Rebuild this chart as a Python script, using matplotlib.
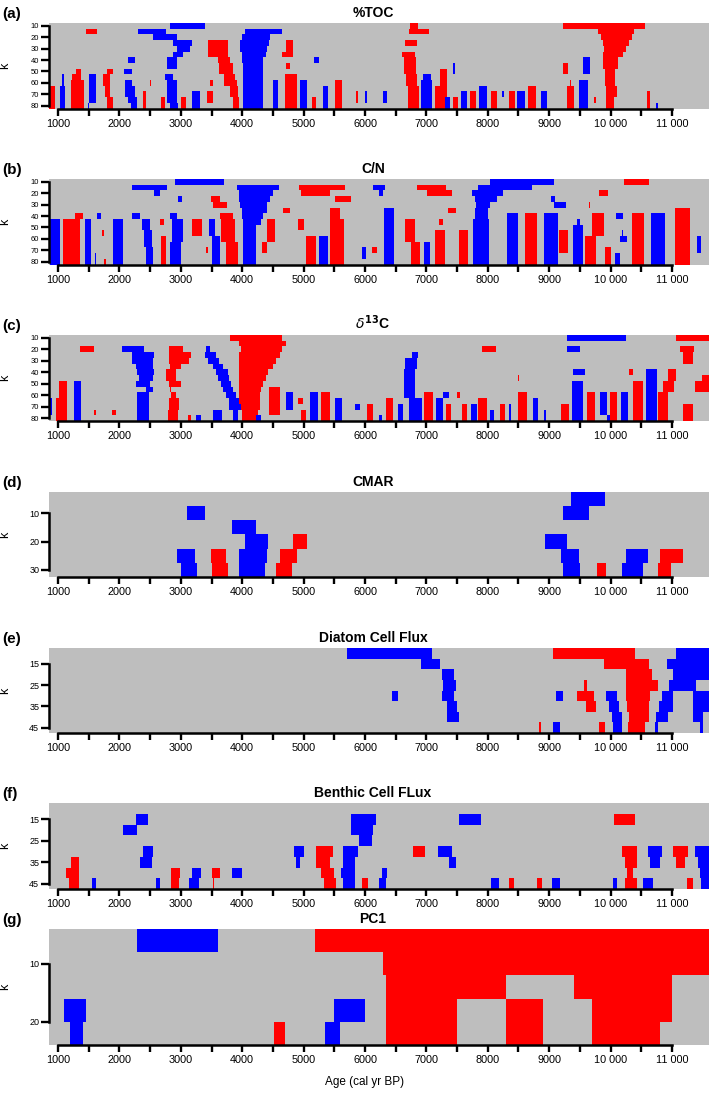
import matplotlib
matplotlib.use("Agg")
import matplotlib.pyplot as plt

plt.rcParams['font.family'] = ['Liberation Sans', 'DejaVu Sans']

RED = "#FF0000"
BLUE = "#0000FF"
GRAY = "#BEBEBE"
COLORS = {"r": RED, "b": BLUE}

# each cell block: (colour, first k row, last k row, age from, age to)
toc_cells = [
    ("b", 10, 10, 2820, 3400),
    ("r", 15, 15, 1460, 1640), ("b", 15, 15, 2300, 2760), ("b", 20, 20, 2550, 2930),
    ("b", 25, 25, 2875, 3175), ("b", 30, 30, 2930, 3150), ("b", 35, 35, 2875, 3040),
    ("b", 40, 45, 2770, 2930), ("b", 55, 55, 2740, 2880), ("b", 60, 75, 2770, 2930),
    ("b", 80, 80, 2820, 2960),
    ("b", 15, 15, 4040, 4640), ("b", 20, 20, 3990, 4450), ("b", 25, 25, 3960, 4430),
    ("b", 30, 30, 3970, 4410), ("b", 35, 35, 3990, 4380), ("b", 40, 40, 4000, 4340),
    ("b", 45, 80, 4010, 4340),
    ("r", 25, 35, 3450, 3770), ("r", 40, 40, 3610, 3800), ("r", 45, 50, 3625, 3850),
    ("r", 55, 55, 3700, 3880), ("r", 60, 60, 3700, 3910), ("r", 65, 70, 3800, 3935),
    ("r", 75, 80, 3850, 3950), ("r", 60, 60, 3470, 3530), ("r", 70, 75, 3430, 3530),
    ("r", 25, 30, 4720, 4830), ("r", 35, 35, 4640, 4830), ("r", 45, 45, 4720, 4780),
    ("r", 55, 80, 4700, 4890),
    ("b", 40, 40, 5170, 5250), ("b", 60, 80, 4500, 4590), ("b", 60, 80, 4940, 5050),
    ("b", 65, 80, 5320, 5400), ("r", 60, 80, 5510, 5620), ("r", 75, 80, 5130, 5210),
    ("r", 65, 80, 855, 945), ("b", 55, 60, 1070, 1090), ("b", 65, 80, 1030, 1110),
    ("r", 50, 50, 1300, 1380), ("r", 55, 55, 1230, 1380), ("r", 60, 80, 1210, 1420),
    ("b", 55, 75, 1505, 1625), ("b", 80, 80, 1490, 1510),
    ("r", 50, 50, 1790, 1900), ("r", 55, 60, 1730, 1840), ("r", 65, 70, 1760, 1840),
    ("r", 75, 80, 1800, 1900),
    ("b", 40, 40, 2140, 2250), ("b", 50, 50, 2070, 2210), ("b", 60, 60, 2090, 2200),
    ("b", 65, 70, 2090, 2250), ("b", 75, 75, 2140, 2280), ("b", 80, 80, 2190, 2280),
    ("r", 60, 60, 2500, 2520), ("r", 70, 80, 2385, 2440), ("r", 75, 80, 2675, 2740),
    ("r", 75, 80, 3010, 3090), ("b", 70, 80, 3180, 3310),
    ("r", 10, 10, 6730, 6870), ("r", 15, 15, 6720, 7040), ("r", 25, 25, 6650, 6840),
    ("r", 35, 35, 6600, 6810), ("r", 40, 50, 6630, 6830), ("r", 55, 60, 6660, 6850),
    ("r", 65, 80, 6700, 6880),
    ("r", 10, 10, 9220, 10560), ("r", 15, 15, 9800, 10380), ("r", 20, 20, 9850, 10350),
    ("r", 25, 25, 9880, 10300), ("r", 30, 30, 9890, 10250), ("r", 35, 35, 9880, 10200),
    ("r", 40, 45, 9880, 10120), ("r", 50, 60, 9910, 10070), ("r", 65, 70, 9920, 10110),
    ("r", 75, 80, 9930, 10060),
    ("b", 55, 55, 6950, 7070), ("b", 60, 80, 6920, 7090),
    ("r", 50, 60, 7220, 7330), ("r", 65, 80, 7140, 7330), ("b", 75, 80, 7300, 7380),
    ("b", 45, 50, 7440, 7460), ("r", 75, 80, 7440, 7510), ("b", 70, 80, 7560, 7660),
    ("r", 70, 80, 7710, 7810), ("b", 65, 80, 7860, 7990), ("r", 70, 80, 8050, 8150),
    ("b", 70, 70, 8230, 8260), ("r", 70, 80, 8350, 8450), ("b", 70, 80, 8480, 8610),
    ("r", 65, 80, 8660, 8790), ("b", 70, 80, 8860, 8960),
    ("b", 40, 50, 9550, 9670), ("r", 45, 50, 9230, 9310),
    ("r", 65, 80, 9290, 9410), ("r", 60, 60, 9340, 9360), ("b", 60, 80, 9480, 9630),
    ("r", 75, 75, 9730, 9760), ("r", 70, 80, 10590, 10640), ("b", 80, 80, 10740, 10770),
    ("r", 70, 75, 5850, 5890), ("b", 70, 75, 6000, 6040), ("b", 70, 75, 6290, 6360),
]

cn_cells = [
    ("b", 10, 10, 2910, 3700),
    ("b", 15, 15, 2200, 2770), ("b", 20, 20, 2565, 2660), ("b", 25, 25, 2960, 3020),
    ("b", 15, 15, 3920, 4600), ("b", 20, 20, 3945, 4505), ("b", 25, 25, 3950, 4450),
    ("b", 30, 30, 3960, 4410), ("b", 35, 35, 3990, 4400), ("b", 40, 40, 3990, 4340),
    ("b", 45, 45, 4005, 4310), ("b", 50, 80, 4005, 4220),
    ("r", 15, 15, 4930, 5675), ("r", 20, 20, 4965, 5430), ("r", 25, 25, 5510, 5780),
    ("r", 25, 25, 3490, 3635), ("r", 30, 30, 3525, 3745), ("r", 35, 35, 4660, 4775),
    ("r", 35, 40, 5430, 5600), ("r", 45, 80, 5430, 5650),
    ("b", 45, 80, 865, 1030), ("r", 40, 40, 1270, 1410), ("r", 45, 80, 1080, 1350),
    ("b", 45, 80, 1435, 1545), ("b", 75, 80, 1595, 1620), ("b", 40, 40, 1640, 1700),
    ("r", 55, 55, 1720, 1750), ("r", 80, 80, 1745, 1775),
    ("b", 45, 80, 1900, 2060), ("b", 40, 40, 2205, 2340), ("b", 45, 50, 2375, 2500),
    ("b", 55, 65, 2400, 2530), ("b", 70, 80, 2430, 2550),
    ("r", 45, 45, 2660, 2725), ("r", 60, 80, 2675, 2765),
    ("b", 40, 40, 2820, 2930), ("b", 45, 60, 2850, 3040), ("b", 65, 80, 2830, 3000),
    ("r", 45, 55, 3190, 3340), ("r", 70, 70, 3410, 3440),
    ("b", 45, 55, 3460, 3560), ("b", 60, 80, 3500, 3640),
    ("r", 40, 40, 3640, 3850), ("r", 45, 60, 3650, 3880), ("r", 65, 80, 3740, 3935),
    ("r", 45, 60, 4400, 4530), ("r", 65, 70, 4320, 4400),
    ("r", 45, 50, 4915, 5005), ("r", 60, 80, 5040, 5210), ("b", 60, 80, 5255, 5400),
    ("b", 10, 10, 8035, 9080), ("r", 10, 10, 10215, 10630),
    ("b", 15, 15, 6125, 6325), ("r", 15, 15, 6855, 7320), ("b", 15, 15, 7845, 8715),
    ("b", 20, 20, 6235, 6300), ("r", 20, 20, 7005, 7410), ("b", 20, 20, 7735, 8250),
    ("r", 20, 20, 9815, 9960),
    ("b", 25, 25, 7790, 8145), ("b", 25, 25, 9030, 9095), ("b", 30, 30, 9080, 9270),
    ("b", 30, 30, 7805, 8035), ("r", 30, 30, 9645, 9660),
    ("r", 35, 35, 7345, 7480), ("b", 35, 80, 6310, 6480), ("b", 35, 40, 7790, 8010),
    ("b", 45, 80, 7765, 8025),
    ("b", 70, 75, 5945, 6015), ("r", 70, 70, 6110, 6190),
    ("r", 45, 60, 6650, 6815), ("r", 65, 80, 6750, 6895),
    ("b", 65, 80, 6960, 7060),
    ("r", 45, 45, 7210, 7275), ("r", 55, 80, 7140, 7300), ("r", 55, 80, 7535, 7680),
    ("b", 40, 80, 8315, 8495), ("r", 40, 80, 8600, 8795), ("b", 40, 80, 8915, 9145),
    ("r", 55, 70, 9165, 9310),
    ("b", 45, 45, 9445, 9510), ("b", 50, 80, 9390, 9555),
    ("r", 40, 55, 9700, 9900), ("r", 60, 80, 9580, 9770), ("r", 70, 80, 9905, 10000),
    ("b", 75, 80, 10070, 10150), ("b", 40, 40, 10095, 10205), ("b", 60, 60, 10160, 10275),
    ("b", 55, 55, 10180, 10200),
    ("r", 40, 80, 10355, 10540), ("b", 40, 80, 10665, 10885), ("r", 35, 80, 11045, 11300),
    ("b", 60, 70, 11400, 11465),
]

d13c_cells = [
    ("r", 10, 10, 3800, 4650), ("r", 15, 15, 3955, 4710), ("r", 20, 20, 3980, 4640),
    ("r", 25, 25, 3955, 4610), ("r", 30, 30, 3955, 4555), ("r", 35, 35, 3955, 4500),
    ("r", 40, 40, 3955, 4420), ("r", 45, 45, 3945, 4390), ("r", 50, 50, 3945, 4340),
    ("r", 55, 55, 3945, 4310), ("r", 60, 70, 3955, 4285), ("r", 75, 80, 4000, 4255),
    ("r", 55, 75, 4435, 4610),
    ("b", 20, 20, 3410, 3475), ("b", 25, 25, 3400, 3575), ("b", 30, 30, 3435, 3625),
    ("b", 35, 35, 3520, 3685), ("b", 40, 40, 3575, 3765), ("b", 45, 45, 3600, 3790),
    ("b", 50, 50, 3655, 3820), ("b", 55, 55, 3695, 3845), ("b", 60, 60, 3740, 3900),
    ("b", 65, 65, 3780, 3945), ("b", 70, 70, 3790, 3980), ("b", 75, 80, 3520, 3675),
    ("b", 75, 80, 3845, 3925),
    ("r", 20, 20, 2810, 3030), ("r", 25, 25, 2800, 3165), ("r", 30, 30, 2800, 3135),
    ("r", 35, 35, 2820, 3000), ("r", 40, 45, 2755, 2920), ("r", 50, 50, 2810, 3000),
    ("r", 55, 55, 2825, 2840), ("r", 60, 60, 2840, 2920), ("r", 65, 70, 2810, 2975),
    ("r", 75, 80, 2785, 2950), ("r", 80, 80, 3110, 3165), ("b", 80, 80, 3255, 3330),
    ("b", 20, 20, 2035, 2400), ("b", 25, 25, 2200, 2565), ("b", 30, 30, 2210, 2540),
    ("b", 35, 35, 2265, 2540), ("b", 40, 40, 2290, 2565), ("b", 45, 45, 2320, 2540),
    ("b", 50, 50, 2265, 2495), ("b", 55, 55, 2430, 2540), ("b", 60, 80, 2290, 2485),
    ("r", 20, 20, 1365, 1585),
    ("r", 50, 60, 1010, 1150), ("r", 65, 80, 960, 1150), ("b", 65, 75, 835, 905),
    ("b", 50, 80, 1255, 1380), ("r", 75, 75, 1585, 1620), ("r", 75, 75, 1885, 1940),
    ("b", 60, 70, 4720, 4830), ("b", 80, 80, 4230, 4310),
    ("r", 65, 65, 4910, 4990), ("r", 75, 80, 4965, 5035),
    ("b", 60, 80, 5100, 5240), ("r", 60, 80, 5290, 5430), ("b", 65, 80, 5510, 5620),
    ("b", 70, 70, 5830, 5920),
    ("b", 10, 10, 9295, 10250), ("r", 10, 10, 11065, 11700),
    ("b", 20, 20, 9295, 9510), ("r", 20, 20, 7910, 8130),
    ("r", 20, 20, 11130, 11360), ("r", 25, 30, 11185, 11345),
    ("b", 25, 25, 6760, 6870), ("b", 30, 35, 6650, 6840), ("b", 40, 60, 6640, 6815),
    ("b", 65, 80, 6720, 6925),
    ("r", 70, 80, 6025, 6135), ("b", 80, 80, 6235, 6270), ("r", 65, 80, 6340, 6460),
    ("b", 70, 80, 6545, 6625), ("r", 60, 80, 6960, 7115),
    ("b", 60, 60, 7265, 7375), ("b", 65, 80, 7155, 7275), ("r", 70, 80, 7320, 7395),
    ("r", 60, 60, 7495, 7545), ("r", 70, 80, 7575, 7655), ("b", 70, 80, 7720, 7820),
    ("r", 65, 80, 7845, 7980), ("b", 75, 80, 8035, 8100), ("r", 70, 80, 8200, 8280),
    ("b", 70, 80, 8340, 8380), ("r", 45, 45, 8490, 8510), ("r", 60, 80, 8495, 8635),
    ("b", 65, 80, 8730, 8825), ("b", 75, 80, 8915, 8950), ("r", 70, 80, 9185, 9330),
    ("b", 40, 40, 9380, 9585), ("b", 50, 80, 9365, 9555), ("r", 60, 80, 9610, 9745),
    ("b", 60, 75, 9825, 9935), ("b", 80, 80, 9935, 9990), ("r", 60, 80, 9990, 10100),
    ("b", 60, 80, 10165, 10290), ("r", 40, 40, 10305, 10370), ("r", 50, 80, 10370, 10535),
    ("b", 40, 80, 10570, 10750),
    ("r", 40, 45, 10940, 11065), ("r", 50, 55, 10860, 11030), ("r", 60, 80, 10780, 10940),
    ("r", 45, 45, 11485, 11700), ("r", 50, 55, 11375, 11700), ("r", 70, 80, 11185, 11345),
]

cmar_cells = [
    ("b", 5, 5, 9350, 9915),
    ("b", 10, 10, 3105, 3400), ("b", 10, 10, 9225, 9650),
    ("b", 15, 15, 3835, 4225),
    ("b", 20, 20, 4045, 4425), ("r", 20, 20, 4830, 5050), ("b", 20, 20, 8930, 9290),
    ("b", 25, 25, 2930, 3230), ("r", 25, 25, 3490, 3730), ("b", 25, 25, 3945, 4410),
    ("r", 25, 25, 4615, 4900), ("b", 25, 25, 9200, 9480), ("b", 25, 25, 10255, 10615),
    ("r", 25, 25, 10810, 11175),
    ("b", 30, 30, 3000, 3265), ("r", 30, 30, 3500, 3770), ("b", 30, 30, 3945, 4370),
    ("r", 30, 30, 4550, 4805), ("b", 30, 30, 9225, 9510), ("r", 30, 30, 9785, 9930),
    ("b", 30, 30, 10190, 10535), ("r", 30, 30, 10770, 10985),
]

diatom_cells = [
    ("b", 10, 10, 5700, 7095), ("r", 10, 10, 9065, 10400), ("b", 10, 10, 11065, 11700),
    ("b", 15, 15, 6920, 7215), ("r", 15, 15, 9890, 10630), ("b", 15, 15, 10920, 11700),
    ("b", 20, 20, 7250, 7450), ("r", 20, 20, 10245, 10680), ("b", 20, 20, 11010, 11700),
    ("b", 25, 25, 7270, 7490), ("r", 25, 25, 9575, 9615), ("r", 25, 25, 10245, 10765),
    ("b", 25, 25, 10955, 11395),
    ("b", 30, 30, 6440, 6530), ("b", 30, 30, 7250, 7450), ("b", 30, 30, 9110, 9230),
    ("r", 30, 30, 9460, 9725), ("b", 30, 30, 9925, 10105), ("r", 30, 30, 10245, 10645),
    ("b", 30, 30, 10845, 11010), ("b", 30, 30, 11340, 11700),
    ("b", 35, 35, 7340, 7505), ("r", 35, 35, 9600, 9760), ("b", 35, 35, 9970, 10135),
    ("r", 35, 35, 10260, 10630), ("b", 35, 35, 10790, 11010), ("b", 35, 35, 11340, 11700),
    ("b", 40, 40, 7340, 7535), ("b", 40, 40, 10025, 10190), ("r", 40, 40, 10300, 10630),
    ("b", 40, 40, 10735, 10930), ("b", 40, 40, 11340, 11505),
    ("r", 45, 45, 8830, 8860), ("b", 45, 45, 9055, 9175), ("r", 45, 45, 9815, 9915),
    ("b", 45, 45, 10035, 10190), ("r", 45, 45, 10290, 10560), ("b", 45, 45, 10725, 10765),
    ("b", 45, 45, 11450, 11505),
]

benthic_cells = [
    ("b", 15, 15, 2275, 2460), ("b", 15, 15, 5765, 6175), ("b", 15, 15, 7530, 7885),
    ("r", 15, 15, 10055, 10400),
    ("b", 20, 20, 2055, 2285), ("b", 20, 20, 5780, 6130),
    ("b", 25, 25, 5900, 6110),
    ("b", 30, 30, 2385, 2550), ("b", 30, 30, 4850, 5000), ("r", 30, 30, 5200, 5475),
    ("b", 30, 30, 5640, 5890), ("r", 30, 30, 6775, 6980), ("b", 30, 30, 7195, 7415),
    ("r", 30, 30, 10190, 10435), ("b", 30, 30, 10615, 10845), ("r", 30, 30, 11010, 11255),
    ("b", 30, 30, 11375, 11700),
    ("r", 35, 35, 1210, 1340), ("b", 35, 35, 2340, 2535), ("b", 35, 35, 4875, 4935),
    ("r", 35, 35, 5200, 5435), ("b", 35, 35, 5640, 5845), ("b", 35, 35, 7365, 7485),
    ("r", 35, 35, 10235, 10435), ("b", 35, 35, 10645, 10810), ("r", 35, 35, 11065, 11220),
    ("b", 35, 35, 11420, 11700),
    ("r", 40, 40, 1135, 1340), ("r", 40, 40, 2835, 2990), ("b", 40, 40, 3180, 3330),
    ("r", 40, 40, 3505, 3640), ("b", 40, 40, 3830, 4000), ("r", 40, 40, 5290, 5490),
    ("b", 40, 40, 5615, 5845), ("b", 40, 40, 6275, 6365), ("r", 40, 40, 10275, 10370),
    ("b", 40, 40, 11450, 11700),
    ("r", 45, 45, 1180, 1340), ("b", 45, 45, 1560, 1615), ("b", 45, 45, 2600, 2660),
    ("r", 45, 45, 2845, 2970), ("b", 45, 45, 3135, 3290), ("r", 45, 45, 3525, 3545),
    ("r", 45, 45, 5335, 5520), ("b", 45, 45, 5640, 5845), ("r", 45, 45, 5955, 6050),
    ("b", 45, 45, 6220, 6350), ("b", 45, 45, 8045, 8185), ("r", 45, 45, 8345, 8425),
    ("r", 45, 45, 8800, 8880), ("b", 45, 45, 9045, 9180), ("b", 45, 45, 10040, 10110),
    ("r", 45, 45, 10230, 10435), ("b", 45, 45, 10530, 10695), ("r", 45, 45, 11245, 11340),
    ("b", 45, 45, 11475, 11700),
]

pc1_cells = [
    ("b", 6, 6, 2290, 3600), ("r", 6, 6, 5190, 11700),
    ("r", 10, 10, 6300, 11700),
    ("b", 18, 18, 1100, 1450), ("b", 22, 22, 1200, 1400),
    ("r", 22, 22, 4520, 4700),
    ("b", 18, 18, 5500, 6000), ("b", 22, 22, 5350, 5600),
    ("r", 14, 22, 6350, 7500), ("r", 14, 14, 7500, 8300), ("r", 18, 22, 8300, 8900),
    ("r", 14, 14, 9400, 11000), ("r", 18, 18, 9700, 11000), ("r", 22, 22, 9700, 10800),
]

age_ticks = list(range(1000, 11001, 500))
age_labels = [("10 000" if a == 10000 else "11 000" if a == 11000 else str(a))
              if a % 1000 == 0 else "" for a in age_ticks]

# label, title, cells, row step, ylim (bottom, top), y ticks, pixel top/bottom
panels = [
    ("(a)", "%TOC", toc_cells, 5, (82.5, 7.5), [10, 20, 30, 40, 50, 60, 70, 80], 23, 108.5),
    ("(b)", "C/N", cn_cells, 5, (82.5, 7.5), [10, 20, 30, 40, 50, 60, 70, 80], 179, 264.5),
    ("(c)", r"$\delta^{\mathbf{13}}$C", d13c_cells, 5, (82.5, 7.5), [10, 20, 30, 40, 50, 60, 70, 80], 335, 421),
    ("(d)", "CMAR", cmar_cells, 5, (32.5, 2.5), [10, 20, 30], 492, 577),
    ("(e)", "Diatom Cell Flux", diatom_cells, 5, (47.5, 7.5), [15, 25, 35, 45], 648, 733),
    ("(f)", "Benthic Cell FLux", benthic_cells, 5, (47.5, 7.5), [15, 25, 35, 45], 803, 889),
    ("(g)", "PC1", pc1_cells, 4, (24, 4), [10, 20], 929, 1045),
]

W, H = 709, 1095
fig = plt.figure(figsize=(W / 100, H / 100), dpi=100)

for label, title, cells, step, ylim, yticks, top, bottom in panels:
    ax = fig.add_axes([49 / W, 1 - bottom / H, 660 / W, (bottom - top) / H])
    ax.set_facecolor(GRAY)
    for c, k0, k1, a0, a1 in cells:
        ax.broken_barh([(a0, a1 - a0)], (k0 - step / 2, k1 - k0 + step),
                       facecolors=COLORS[c], edgecolor="none")
    ax.set_xlim(853, 11603)
    ax.set_ylim(*ylim)
    for s in ("top", "right"):
        ax.spines[s].set_visible(False)
    ax.spines["left"].set_bounds(yticks[0], yticks[-1])
    ax.spines["bottom"].set_bounds(1000, 11000)
    for s in ("left", "bottom"):
        ax.spines[s].set_linewidth(1.8)
    ax.set_xticks(age_ticks)
    ax.set_xticklabels(age_labels, fontsize=7.8)
    ax.set_yticks(yticks)
    ax.set_yticklabels([str(t) for t in yticks], fontsize=5.5 if len(yticks) > 4 else 6.5)
    ax.tick_params(axis="x", length=5, width=1.7, pad=2.5)
    ax.tick_params(axis="y", length=5.5, width=1.7, pad=1.5)
    ax.set_ylabel("k", fontsize=9, labelpad=3)
    ax.yaxis.set_label_coords(-0.058, 0.5)
    fig.text(373 / W, 1 - (top - 6) / H, title, ha="center", va="baseline",
             fontsize=10, fontweight="bold")
    fig.text(2 / W, 1 - (top - 9) / H, label, ha="left", va="center",
             fontsize=11, fontweight="bold")

fig.text(365 / W, 1 - 1082 / H, "Age (cal yr BP)", ha="center", va="center", fontsize=8.5)

fig.savefig("out.png", dpi=100)
